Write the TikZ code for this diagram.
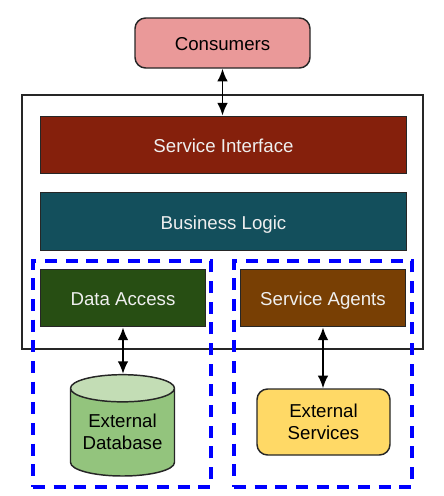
\documentclass[tikz,border=0pt]{standalone}
\usepackage{fontspec}
\usepackage{xcolor}
\usepackage{tikz}
\usetikzlibrary{shapes.geometric,arrows.meta}
\setmainfont{Liberation Sans}

\definecolor{pinkfill}{HTML}{EA9999}
\definecolor{redfill}{HTML}{85200C}
\definecolor{tealfill}{HTML}{134F5C}
\definecolor{greenfill}{HTML}{274E13}
\definecolor{brownfill}{HTML}{783F04}
\definecolor{dbfill}{HTML}{93C47D}
\definecolor{dbtop}{HTML}{C3DDB5}
\definecolor{yellowfill}{HTML}{FFD966}
\definecolor{paletext}{HTML}{EFEFEF}

\tikzset{
    label text/.style={font=\fontsize{14}{16.5}\selectfont, align=center, inner sep=0pt},
    one line/.style={text height=11.5pt, text depth=0pt},
    soft box/.style={label text, draw=black!85, line width=1.1pt, rounded corners=8pt},
    layer box/.style={label text, one line, draw=black!85, line width=1.1pt, text=paletext},
    zone box/.style={draw=blue, line width=2.3pt, dash pattern=on 9pt off 6.5pt, inner sep=0pt},
    link/.style={{Latex[length=9.5pt,width=8pt]}-{Latex[length=9.5pt,width=8pt]}, line width=1.4pt},
}

\begin{document}
\begin{tikzpicture}[x=0.75pt, y=-0.75pt]

\useasboundingbox (0,0) rectangle (443,496);

% Outer frame
\node[draw=black!85, line width=1pt, minimum width=300.75pt, minimum height=190.5pt, inner sep=0pt]
    (service) at (222.5,222) {};

% Dashed zones
\node[zone box, minimum width=133.5pt, minimum height=169.5pt] (datazone) at (122,374) {};
\node[zone box, minimum width=133.5pt, minimum height=169.5pt] (agentzone) at (323,374) {};

% Top box
\node[soft box, one line, fill=pinkfill, minimum width=131.25pt, minimum height=37.5pt]
    (consumers) at (222.5,43) {Consumers};

% Layers
\node[layer box, fill=redfill, minimum width=274.5pt, minimum height=43pt]
    (interface) at (223.5,145) {Service Interface};
\node[layer box, fill=tealfill, minimum width=274.5pt, minimum height=43.5pt]
    (logic) at (223.5,221.5) {Business Logic};
\node[layer box, fill=greenfill, minimum width=123.5pt, minimum height=43pt]
    (dataaccess) at (123,298) {Data Access};
\node[layer box, fill=brownfill, minimum width=123.5pt, minimum height=43pt]
    (agents) at (323,298) {Service Agents};

% External systems
\node[label text, draw=black!85, line width=1.1pt, cylinder, shape border rotate=90, aspect=0.34,
      cylinder uses custom fill, cylinder body fill=dbfill, cylinder end fill=dbtop,
      minimum width=78pt, minimum height=76pt]
    (database) at (122.5,432.5) {\raisebox{-0.9pt}[\height][\depth]{\begin{tabular}{@{}c@{}}External\\Database\end{tabular}}};
\node[soft box, fill=yellowfill, minimum width=99.75pt, minimum height=49.5pt]
    (external) at (323.5,422) {External\\Services};

% Connectors
\draw[link] (consumers.south) -- (consumers.south |- interface.north);
\draw[link] (dataaccess.south) -- (dataaccess.south |- database.north);
\draw[link] (agents.south) -- (agents.south |- external.north);

\end{tikzpicture}
\end{document}
